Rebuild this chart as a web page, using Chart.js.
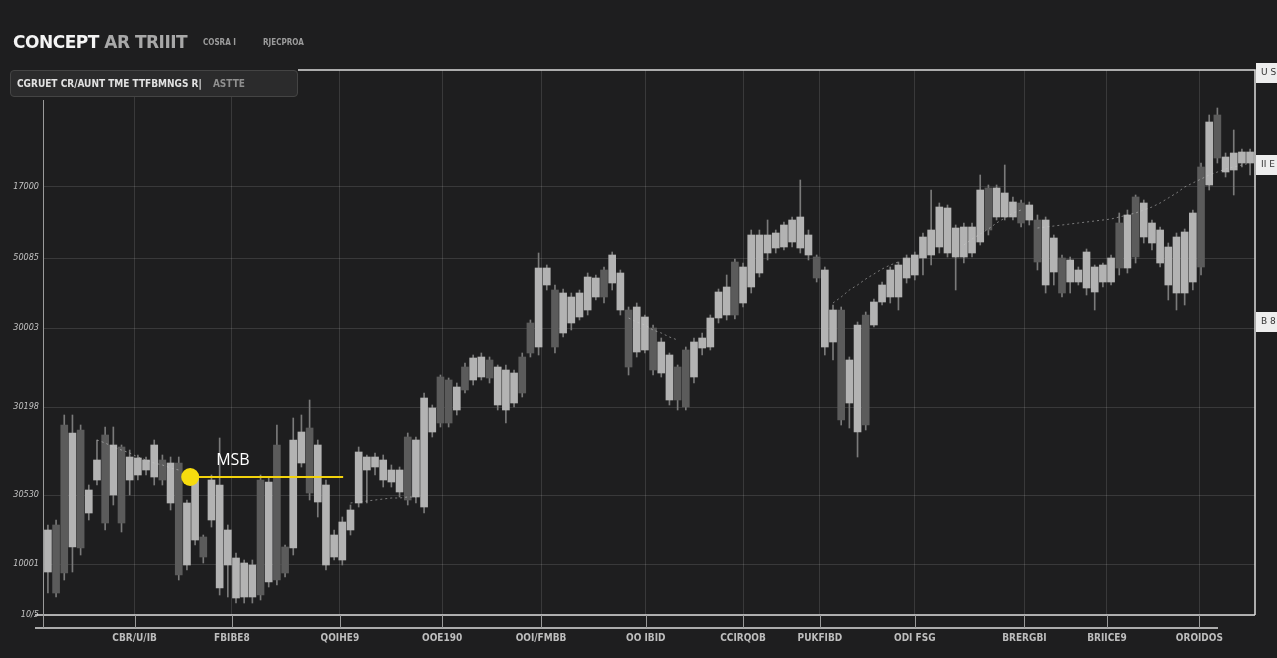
<!DOCTYPE html>
<html>
<head>
<meta charset="utf-8">
<script src="https://cdn.jsdelivr.net/npm/chart.js@4.4.0/dist/chart.umd.min.js"></script>
<style>
  html, body { margin: 0; padding: 0; background: #1e1e1f; overflow: hidden; }
  #wrap { position: relative; width: 1277px; height: 658px; }
  #grafica { position: absolute; left: 0; top: 0; }
  .title { position: absolute; left: 13px; top: 32px; font: bold 17px "DejaVu Sans", sans-serif; color: #f4f4f4; white-space: nowrap; letter-spacing: -0.5px; }
  .title span { color: #a8a8a8; }
  .sub { position: absolute; top: 38px; font: bold 8px "DejaVu Sans Condensed", sans-serif; color: #9c9c9c; white-space: nowrap; }
  .box { position: absolute; left: 10px; top: 70px; width: 288px; height: 27px; background: #2b2b2c; border: 1px solid #444; border-radius: 4px; box-sizing: border-box; font: bold 10px "DejaVu Sans Condensed", sans-serif; color: #e2e2e2; line-height: 25px; padding-left: 6px; white-space: nowrap; }
  .box span { color: #8f8f8f; margin-left: 8px; }
</style>
</head>
<body>
<div id="wrap">
  <canvas id="grafica" width="1277" height="658"></canvas>
  <div class="title">CONCEPT <span>AR TRIIIT</span></div>
  <div class="sub" style="left:203px">COSRA I</div>
  <div class="sub" style="left:263px">RJECPROA</div>
  <div class="box">CGRUET CR/AUNT TME TTFBMNGS R| <span>ASTTE</span></div>
</div>
<script>
// candles (scale: 0 = bottom axis, 545 = top frame)
const opens = [43, 90, 190, 68, 185, 102, 135, 180, 120, 168, 135, 140, 145, 138, 155, 112, 152, 50, 75, 78,
  95, 27, 50, 17, 18, 18, 135, 33, 170, 68, 67, 152, 187, 113, 50, 58, 55, 85, 112,
  145, 148, 135, 133, 123, 178, 118, 108, 183, 238, 235, 205, 248, 235, 238, 255, 210, 205, 212, 258,
  292, 268, 330, 325, 282, 292, 298, 305, 318, 345, 332, 305, 305, 263, 265, 287, 242, 215, 248, 265, 238,
  267, 268, 297, 300, 353, 312, 328, 342, 362, 367, 368, 373, 367, 360, 358, 268, 273, 305, 212, 183,
  300, 290, 313, 318, 318, 337, 340, 357, 360, 368, 362, 358, 358, 362, 373, 427, 398, 398, 398, 412, 395, 395,
  330, 343, 357, 333, 333, 327, 323, 333, 333, 392, 347, 418, 378, 372, 352, 330, 322, 322, 333, 448,
  430, 500, 443, 445, 452, 452];
const closes = [85, 22, 42, 182, 67, 125, 155, 92, 170, 92, 158, 157, 155, 170, 135, 152, 40, 112, 138, 58,
  135, 130, 85, 57, 52, 50, 20, 133, 35, 42, 175, 183, 122, 170, 130, 80, 93, 105, 163,
  158, 158, 155, 145, 145, 115, 175, 217, 207, 192, 192, 228, 225, 257, 258, 237, 248, 245, 242, 222,
  262, 347, 347, 268, 322, 318, 322, 338, 337, 318, 360, 342, 248, 308, 298, 245, 273, 260, 215, 208, 273,
  277, 297, 323, 328, 300, 348, 380, 380, 380, 382, 390, 395, 398, 380, 337, 345, 305, 195, 255, 290,
  190, 313, 330, 345, 350, 357, 360, 378, 385, 408, 407, 387, 388, 388, 425, 385, 427, 422, 413, 392, 410, 353,
  395, 377, 322, 355, 345, 363, 348, 350, 357, 347, 400, 358, 412, 392, 385, 368, 378, 383, 402, 348,
  493, 457, 458, 462, 463, 463];
const highs = [90, 95, 200, 200, 190, 130, 175, 188, 188, 170, 165, 160, 158, 175, 160, 158, 158, 115, 140, 80,
  140, 177, 90, 62, 55, 55, 140, 137, 190, 70, 197, 200, 215, 175, 135, 85, 98, 110, 168,
  160, 162, 160, 150, 148, 182, 178, 222, 210, 240, 237, 232, 252, 260, 262, 258, 250, 250, 245, 262,
  295, 362, 350, 330, 326, 322, 325, 342, 340, 348, 363, 345, 308, 312, 300, 290, 277, 262, 250, 268, 277,
  282, 300, 326, 340, 356, 352, 385, 385, 395, 385, 393, 398, 435, 385, 360, 348, 310, 308, 258, 293,
  303, 316, 333, 348, 353, 360, 363, 382, 425, 412, 410, 390, 392, 392, 440, 430, 430, 450, 418, 415, 413, 400,
  398, 380, 360, 358, 348, 366, 350, 352, 360, 402, 405, 420, 415, 395, 388, 372, 382, 386, 405, 452,
  500, 507, 462, 485, 466, 466];
const lows = [22, 18, 35, 43, 60, 95, 130, 85, 110, 83, 120, 135, 140, 130, 130, 105, 35, 45, 70, 52,
  88, 20, 18, 12, 12, 12, 15, 28, 30, 38, 60, 148, 115, 98, 45, 55, 50, 80, 108,
  112, 140, 128, 128, 118, 110, 112, 102, 178, 188, 188, 200, 222, 230, 235, 232, 205, 192, 208, 218,
  258, 260, 325, 262, 278, 285, 295, 300, 315, 312, 325, 300, 240, 258, 262, 240, 238, 210, 205, 205, 232,
  260, 265, 292, 295, 296, 308, 322, 338, 355, 362, 365, 368, 362, 355, 333, 260, 255, 190, 187, 158,
  185, 288, 310, 312, 305, 332, 335, 340, 350, 362, 358, 325, 352, 358, 370, 380, 395, 395, 395, 388, 390, 345,
  322, 330, 318, 322, 330, 320, 305, 328, 330, 340, 342, 352, 372, 365, 348, 315, 305, 310, 325, 340,
  425, 452, 438, 420, 448, 440];

// dotted average line (null where the picture shows none)
const maLine = [null, null, null, null, null, null, 175, 172, 168, 165, 162, 158, 155, 152, 150, 147, 145, null, null, null,
  null, null, null, null, null, null, null, null, null, null, null, null, null, null, null, null, null, 112, 113,
  114, 115, 116, 117, 117, 118, 118, null, null, null, null, null, null, null, null, null, null, null, null, null,
  null, null, null, null, null, null, null, null, null, null, null, null, 297, 293, 290, 285, 282, 278, 275, null,
  null, null, null, null, null, null, null, null, null, null, null, null, null, null, null, null, null, 312, 318, 325,
  330, 336, 341, 346, 350, 353, null, null, null, null, null, null, null, 370, 376, 381, 386, 392, 397, 402, 405, null, 387,
  388, 389, 390, 391, 392, 393, 394, 395, 396, 398, 400, 402, 405, 408, 412, 417, 422, 428, 432, 436,
  440, 443, 446, 448, 450, 452];

const yTickValues = [428, 357, 287, 208, 120, 51, 0];
const yTickLabels = ["17000", "50085", "30003", "30198", "30530", "10001", "10/5"];
const xTickValues = [10.6, 22.5, 35.7, 48.2, 60.3, 73.1, 85, 94.4, 106, 119.4, 129.5, 140.8];
const xTickLabels = ["CBR/U/IB", "FBIBE8", "QOIHE9", "OOE190", "OOI/FMBB", "OO IBID", "CCIRQOB", "PUKFIBD", "ODI FSG", "BRERGBI", "BRIICE9", "OROIDOS"];
const sideMarks = [542, 450, 293];
const sideLabels = ["U S", "II E", "B 8"];
const msbLevel = 138;
const msbFrom = 17.4;
const msbTo = 36.1;

const decor = {
  id: 'decor',
  afterDatasetsDraw(chart) {
    const { ctx, chartArea: a, scales: { x, y } } = chart;
    ctx.save();
    ctx.strokeStyle = '#dcdcdc';
    ctx.lineWidth = 1.5;
    ctx.beginPath();
    ctx.moveTo(298, a.top); ctx.lineTo(a.right, a.top); ctx.lineTo(a.right, a.bottom);
    ctx.moveTo(35, a.bottom); ctx.lineTo(a.right, a.bottom);
    ctx.moveTo(35, a.bottom + 13); ctx.lineTo(1218, a.bottom + 13);
    ctx.stroke();
    ctx.lineWidth = 1;
    ctx.strokeStyle = '#9a9a9a';
    ctx.beginPath();
    ctx.moveTo(a.left + 0.5, 100); ctx.lineTo(a.left + 0.5, a.bottom + 13);
    xTickValues.forEach(v => {
      const px = Math.round(x.getPixelForValue(v)) + 0.5;
      ctx.moveTo(px, a.bottom); ctx.lineTo(px, a.bottom + 13);
    });
    ctx.stroke();
    // right side boxes
    ctx.font = '9px "DejaVu Sans"';
    ctx.textBaseline = 'middle';
    sideMarks.forEach((v, i) => {
      const py = y.getPixelForValue(v);
      ctx.fillStyle = '#eeeeee';
      ctx.fillRect(a.right + 1, py - 10, 22, 20);
      ctx.fillStyle = '#333';
      ctx.fillText(sideLabels[i], a.right + 6, py);
    });
    // MSB label
    const mx = x.getPixelForValue(msbFrom), my = y.getPixelForValue(msbLevel);
    ctx.fillStyle = '#ffffff';
    ctx.font = '16px "Open Sans"';
    ctx.fillText('MSB', mx + 26, my - 17);
    ctx.restore();
  }
};

new Chart(document.getElementById('grafica'), {
  type: 'bar',
  data: {
    datasets: [{
      label: 'Mechas',
      data: lows.map((l, i) => ({ x: i, y: [l, highs[i]] })),
      backgroundColor: '#7a7a7a',
      barThickness: 1,
      grouped: false,
      order: 4
    }, {
      label: 'Velas',
      data: opens.map((o, i) => ({ x: i, y: [o, closes[i]] })),
      backgroundColor: opens.map((o, i) => closes[i] >= o ? '#b3b3b3' : '#5b5b5b'),
      barThickness: 7,
      minBarLength: 2,
      grouped: false,
      order: 3
    }, {
      type: 'line',
      label: 'Media',
      data: maLine.map((v, i) => ({ x: i, y: v })),
      borderColor: 'rgba(200,200,200,0.55)',
      borderWidth: 1,
      borderDash: [2, 3],
      pointRadius: 0,
      spanGaps: false,
      order: 2
    }, {
      type: 'line',
      label: 'MSB',
      data: [{ x: msbFrom, y: msbLevel }, { x: msbTo, y: msbLevel }],
      borderColor: '#f2d20c',
      borderWidth: 2,
      pointRadius: [9, 0],
      pointBackgroundColor: '#f7dc0e',
      pointBorderWidth: 0,
      order: 1
    }]
  },
  options: {
    responsive: false,
    animation: false,
    layout: { padding: { top: 70, right: 22, left: 0, bottom: 0 } },
    plugins: { legend: { display: false }, tooltip: { enabled: false } },
    scales: {
      x: {
        type: 'linear',
        offset: false,
        min: -0.6,
        max: 147.6,
        afterBuildTicks: s => { s.ticks = xTickValues.map(v => ({ value: v })); },
        afterFit: s => { s.height = 43; },
        ticks: {
          callback: (v, i) => xTickLabels[i],
          color: '#bdbdbd',
          font: { size: 10, family: 'DejaVu Sans Condensed', weight: 'bold' },
          maxRotation: 0,
          autoSkip: false,
          padding: 17
        },
        grid: { color: 'rgba(255,255,255,0.12)', drawTicks: false, offset: false },
        border: { display: false }
      },
      y: {
        min: 0,
        max: 545,
        afterBuildTicks: s => { s.ticks = yTickValues.map(v => ({ value: v })); },
        afterFit: s => { s.width = 43; },
        ticks: {
          callback: (v, i) => yTickLabels[i],
          color: '#c2c2c2',
          font: { size: 9, family: 'DejaVu Sans Condensed', style: 'italic' },
          padding: 4
        },
        grid: { color: 'rgba(255,255,255,0.12)', drawTicks: false },
        border: { display: false }
      }
    }
  },
  plugins: [decor]
});
</script>
</body>
</html>
